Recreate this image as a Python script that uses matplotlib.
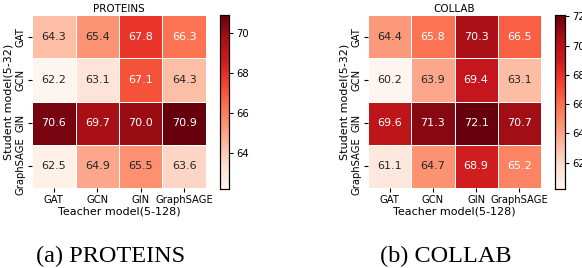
import matplotlib
matplotlib.use("Agg")
import matplotlib.pyplot as plt
import seaborn as sns
import numpy as np

models = ["GAT", "GCN", "GIN", "GraphSAGE"]
proteins = [
    [64.3, 65.4, 67.8, 66.3],
    [62.2, 63.1, 67.1, 64.3],
    [70.6, 69.7, 70.0, 70.9],
    [62.5, 64.9, 65.5, 63.6],
]
collab = [
    [64.4, 65.8, 70.3, 66.5],
    [60.2, 63.9, 69.4, 63.1],
    [69.6, 71.3, 72.1, 70.7],
    [61.1, 64.7, 68.9, 65.2],
]
titles = ["PROTEINS", "COLLAB"]
captions = ["(a) PROTEINS", "(b) COLLAB"]

fig = plt.figure(figsize=(5.82, 2.68), dpi=100)
W, H = 582, 268

def px(x0, y0, x1, y1):
    return [x0 / W, 1 - y1 / H, (x1 - x0) / W, (y1 - y0) / H]

layouts = [
    (px(32, 15, 206, 188), px(220, 15, 229, 189), 111),
    (px(368, 15, 541, 188), px(555, 15, 565, 189), 446),
]

for data, title, cap, (axr, caxr, cx) in zip([proteins, collab], titles, captions, layouts):
    ax = fig.add_axes(axr)
    cax = fig.add_axes(caxr)
    sns.heatmap(np.array(data), ax=ax, cbar_ax=cax, cmap="Reds", annot=True, fmt=".1f",
                linewidths=0.7, linecolor="white",
                annot_kws={"fontsize": 8},
                xticklabels=models, yticklabels=models)
    ax.set_title(title, fontsize=7.5, pad=2)
    ax.set_xlabel("Teacher model(5-128)", fontsize=8, labelpad=1)
    ax.set_ylabel("Student model(5-32)", fontsize=8, labelpad=1)
    ax.tick_params(axis="both", labelsize=7.2, length=3, pad=2)
    plt.setp(ax.get_yticklabels(), rotation=90, va="center")
    plt.setp(ax.get_xticklabels(), rotation=0)
    cax.tick_params(labelsize=7.2, length=3, pad=2)
    for s in cax.spines.values():
        s.set_visible(True)
        s.set_linewidth(0.8)
    fig.text(cx / W, 1 - 262 / H, cap, ha="center", va="baseline",
             fontsize=17.5, family="Liberation Serif")

fig.savefig("out.png", dpi=100)
